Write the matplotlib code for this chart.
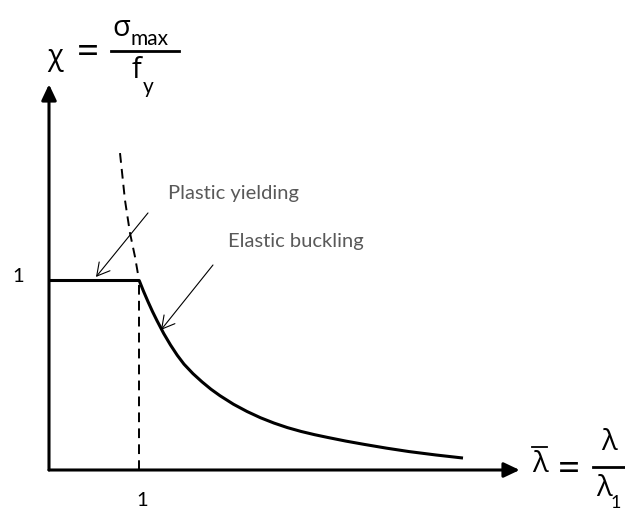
import matplotlib
matplotlib.use("Agg")
import matplotlib.pyplot as plt
from matplotlib.lines import Line2D

# Buckling curve: plateau, elastic branch, Euler continuation (dashed)
lam_plastic = [0.0, 1.0]
chi_plastic = [1.0, 1.0]

lam_elastic = [1.0, 1.05, 1.1, 1.15, 1.2, 1.275, 1.35, 1.425, 1.5, 1.6, 1.7,
               1.8, 1.9, 2.05, 2.2, 2.35, 2.5, 2.65, 2.8, 2.95, 3.1, 3.3,
               3.5, 3.75, 4.0, 4.3, 4.6]
chi_elastic = [1.0, 0.941, 0.886, 0.834, 0.786, 0.718, 0.658, 0.604, 0.557,
               0.507, 0.464, 0.425, 0.391, 0.346, 0.308, 0.275, 0.247,
               0.223, 0.203, 0.186, 0.171, 0.152, 0.135, 0.115, 0.097,
               0.079, 0.063]

lam_euler = [0.789, 0.844, 0.900, 0.956, 1.0]
chi_euler = [1.668, 1.421, 1.247, 1.121, 1.0]

tick_labels = ["1", "1"]
ann_text = ["Plastic yielding", "Elastic buckling"]

W, H = 625, 512
fig = plt.figure(figsize=(W / 100, H / 100), dpi=100)
ax = fig.add_axes([0, 0, 1, 1])
ax.set_xlim(-49 / 90, (W - 49) / 90)
ax.set_ylim(-(H - 470) / 190, 470 / 190)
ax.axis("off")


def fp(x, y):
    # pixel position -> figure fraction
    return x / W, 1 - y / H


lat = ["Lato", "Open Sans", "DejaVu Sans"]
grk = ["Open Sans", "DejaVu Sans"]

# axes with arrowheads
arrow_kw = dict(arrowstyle="-|>,head_length=0.95,head_width=0.45",
                color="black", lw=2.2, shrinkA=0, shrinkB=0,
                mutation_scale=10)
ax.annotate("", xy=(5.23, 0), xytext=(0, 0), arrowprops=arrow_kw)
ax.annotate("", xy=(0, 2.03), xytext=(0, 0), arrowprops=arrow_kw)

# curves
ax.plot(lam_plastic, chi_plastic, color="black", lw=2.2, solid_capstyle="butt")
ax.plot(lam_elastic, chi_elastic, color="black", lw=2.2,
        solid_joinstyle="round", solid_capstyle="butt")
ax.plot(lam_euler, chi_euler, color="black", lw=1.4, dashes=(5, 3.2))
ax.plot([1, 1], [0, 1], color="black", lw=1.4, dashes=(5, 3.2))

# tick labels
fig.text(*fp(142, 500), tick_labels[0], family=lat, fontsize=14.5,
         ha="center", va="center")
fig.text(*fp(18, 277), tick_labels[1], family=lat, fontsize=14.5,
         ha="center", va="center")

# annotations
head = dict(arrowstyle="->,head_length=0.45,head_width=0.25",
            color="black", lw=0.8, shrinkA=0, shrinkB=0, mutation_scale=20)
ax.annotate("", xy=(0.522, 1.016), xytext=(1.10, 1.353), arrowprops=head)
ax.annotate("", xy=(1.244, 0.737), xytext=(1.822, 1.079), arrowprops=head)
fig.text(*fp(168, 193), ann_text[0], family=lat, fontsize=14.5,
         color="#595959", ha="left", va="center")
fig.text(*fp(228, 241), ann_text[1], family=lat, fontsize=14.5,
         color="#595959", ha="left", va="center")

# y-axis label: chi = sigma_max / f_y
big = 21
fig.text(*fp(55, 58), "χ", family=grk, fontsize=big, ha="center", va="center")
fig.text(*fp(87.5, 53), "=", family=grk, fontsize=28, ha="center", va="center")
fig.add_artist(Line2D([111 / W, 179 / W], [1 - 51 / H, 1 - 51 / H],
                      color="black", lw=2.0, transform=fig.transFigure))
fig.text(*fp(121, 29), "σ", family=grk, fontsize=big, ha="center", va="center")
fig.text(*fp(130, 39), "max", family=lat, fontsize=15, ha="left", va="center")
fig.text(*fp(136, 70), "f", family=grk, fontsize=big, ha="center", va="center")
fig.text(*fp(148, 87), "y", family=lat, fontsize=15, ha="center", va="center")

# x-axis label: lambda_bar = lambda / lambda_1
fig.text(*fp(540, 465), "λ", family=grk, fontsize=big, ha="center", va="center")
fig.add_artist(Line2D([532 / W, 547 / W], [1 - 447 / H, 1 - 447 / H],
                      color="black", lw=1.3, transform=fig.transFigure))
fig.text(*fp(568.5, 470), "=", family=grk, fontsize=28, ha="center", va="center")
fig.add_artist(Line2D([593 / W, 625 / W], [1 - 467 / H, 1 - 467 / H],
                      color="black", lw=2.0, transform=fig.transFigure))
fig.text(*fp(609, 443), "λ", family=grk, fontsize=big, ha="center", va="center")
fig.text(*fp(604, 489), "λ", family=grk, fontsize=big, ha="center", va="center")
fig.text(*fp(616, 503), "1", family=lat, fontsize=13, ha="center", va="center")

fig.savefig("out.png", dpi=100)
